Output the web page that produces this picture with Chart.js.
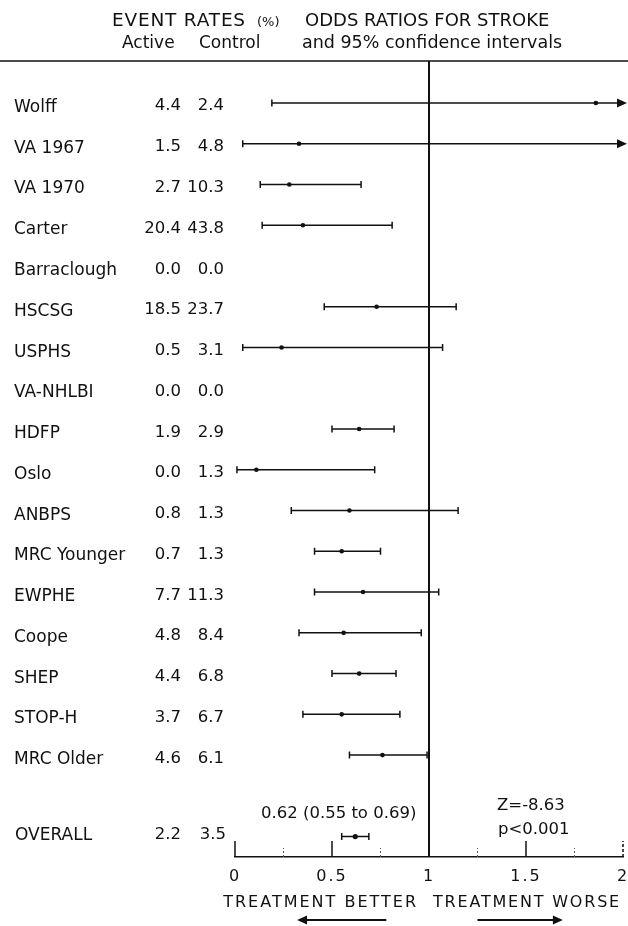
<!DOCTYPE html>
<html>
<head>
<meta charset="utf-8">
<title>Odds ratios for stroke</title>
<script src="https://cdn.jsdelivr.net/npm/chart.js@4/dist/chart.umd.min.js"></script>
<style>
  html, body { margin: 0; padding: 0; background: #fff; }
  canvas { display: block; }
</style>
</head>
<body>
<canvas id="forest" width="628" height="926"></canvas>
<script>
// Trials, event rates (%) and odds ratios for stroke with 95% confidence intervals
const studies = ['Wolff', 'VA 1967', 'VA 1970', 'Carter', 'Barraclough', 'HSCSG', 'USPHS',
  'VA-NHLBI', 'HDFP', 'Oslo', 'ANBPS', 'MRC Younger', 'EWPHE', 'Coope', 'SHEP', 'STOP-H', 'MRC Older'];
const activeRates = ['4.4', '1.5', '2.7', '20.4', '0.0', '18.5', '0.5', '0.0', '1.9', '0.0', '0.8',
  '0.7', '7.7', '4.8', '4.4', '3.7', '4.6'];
const controlRates = ['2.4', '4.8', '10.3', '43.8', '0.0', '23.7', '3.1', '0.0', '2.9', '1.3', '1.3',
  '1.3', '11.3', '8.4', '6.8', '6.7', '6.1'];
// null: no events in either arm, so no estimate
const oddsRatios = [1.86, 0.33, 0.28, 0.35, null, 0.73, 0.24, null, 0.64, 0.11, 0.59,
  0.55, 0.66, 0.56, 0.64, 0.55, 0.76];
const ciLower = [0.19, 0.04, 0.13, 0.14, null, 0.46, 0.04, null, 0.50, 0.01, 0.29,
  0.41, 0.41, 0.33, 0.50, 0.35, 0.59];
// Infinity: upper limit runs past the end of the axis (drawn as an arrow)
const ciUpper = [Infinity, Infinity, 0.65, 0.81, null, 1.14, 1.07, null, 0.82, 0.72, 1.15,
  0.75, 1.05, 0.96, 0.83, 0.85, 0.99];

// Pooled result
const overallLabel = 'OVERALL';
const overallActive = '2.2';
const overallControl = '3.5';
const overallOR = 0.62;
const overallLower = 0.55;
const overallUpper = 0.69;
const overallText = '0.62 (0.55 to 0.69)';
const testText = ['Z=-8.63', 'p<0.001'];

// Axis
const axisTicks = [0, 0.5, 1, 1.5, 2];
const tickLabels = ['0', '0.5', '1', '1.5', '2'];
const minorTicks = [0.25, 0.75, 1.25, 1.75];

const overallRow = studies.length + 1;
const INK = '#111';
const FONT = '"DejaVu Sans", "Liberation Sans", sans-serif';

function text(ctx, str, x, y, size, align, spacing) {
  ctx.save();
  ctx.font = size + 'px ' + FONT;
  ctx.fillStyle = INK;
  ctx.textAlign = align || 'left';
  ctx.textBaseline = 'alphabetic';
  ctx.letterSpacing = (spacing || 0) + 'px';
  ctx.fillText(str, x, y);
  ctx.restore();
}

function arrowHead(ctx, x, y, dir) {
  ctx.beginPath();
  ctx.moveTo(x, y);
  ctx.lineTo(x - dir * 10, y - 4.5);
  ctx.lineTo(x - dir * 10, y + 4.5);
  ctx.closePath();
  ctx.fill();
}

function drawInterval(ctx, chart, lo, hi, row) {
  const xs = chart.scales.x, ys = chart.scales.y;
  const y = ys.getPixelForValue(row);
  const x1 = xs.getPixelForValue(lo);
  const open = !isFinite(hi);
  const x2 = open ? chart.chartArea.right + 4 : xs.getPixelForValue(hi);
  ctx.beginPath();
  ctx.moveTo(x1, y);
  ctx.lineTo(open ? x2 - 8 : x2, y);
  ctx.moveTo(x1, y - 3.5);
  ctx.lineTo(x1, y + 3.5);
  if (!open) {
    ctx.moveTo(x2, y - 3.5);
    ctx.lineTo(x2, y + 3.5);
  }
  ctx.stroke();
  if (open) arrowHead(ctx, x2, y, 1);
}

const forestPlugin = {
  id: 'forest',
  beforeDraw(chart) {
    // slightly spaced digits on the odds-ratio axis
    chart.ctx.letterSpacing = '2px';
  },
  beforeDatasetsDraw(chart) {
    const ctx = chart.ctx;
    ctx.letterSpacing = '0px';
    const {chartArea, scales: {x, y}} = chart;
    ctx.save();
    ctx.strokeStyle = INK;
    ctx.fillStyle = INK;
    ctx.lineWidth = 1.5;

    // header rule across the full width
    ctx.beginPath();
    ctx.moveTo(0, chartArea.top);
    ctx.lineTo(chart.width, chartArea.top);
    ctx.stroke();

    // line of no effect
    ctx.lineWidth = 2;
    const x1 = x.getPixelForValue(1);
    ctx.beginPath();
    ctx.moveTo(x1, chartArea.top);
    ctx.lineTo(x1, chartArea.bottom);
    ctx.stroke();

    // axis tick marks rising from the baseline
    ctx.lineWidth = 1.5;
    axisTicks.forEach(v => {
      if (v === 1) return;
      const px = x.getPixelForValue(v);
      ctx.setLineDash(v === 2 ? [3, 2] : []);
      ctx.beginPath();
      ctx.moveTo(px, chartArea.bottom);
      ctx.lineTo(px, chartArea.bottom - 16);
      ctx.stroke();
    });
    ctx.strokeStyle = '#555';
    ctx.lineWidth = 1;
    ctx.setLineDash([2, 2]);
    minorTicks.forEach(v => {
      const px = x.getPixelForValue(v);
      ctx.beginPath();
      ctx.moveTo(px, chartArea.bottom);
      ctx.lineTo(px, chartArea.bottom - 9);
      ctx.stroke();
    });
    ctx.setLineDash([]);

    // confidence intervals
    ctx.strokeStyle = INK;
    ctx.lineWidth = 1.5;
    studies.forEach((s, i) => {
      if (ciLower[i] == null) return;
      drawInterval(ctx, chart, ciLower[i], ciUpper[i], i);
    });
    drawInterval(ctx, chart, overallLower, overallUpper, overallRow);
    ctx.restore();
  },
  afterDraw(chart) {
    const ctx = chart.ctx;
    ctx.letterSpacing = '0px';
    const {scales: {x, y}} = chart;

    // column headings
    text(ctx, 'EVENT RATES', 112, 26, 18.5, 'left', 0.8);
    text(ctx, '(%)', 257, 26, 13);
    text(ctx, 'ODDS RATIOS FOR STROKE', 305, 26, 18);
    text(ctx, 'Active', 122, 48, 17);
    text(ctx, 'Control', 199, 48, 17);
    text(ctx, 'and 95% confidence intervals', 302, 48, 17.5);

    // trial names and event rates
    studies.forEach((s, i) => {
      const py = y.getPixelForValue(i);
      text(ctx, s, 14, py + 9, 17);
      text(ctx, activeRates[i], 181, py + 7.5, 16.5, 'right');
      text(ctx, controlRates[i], 224, py + 7.5, 16.5, 'right');
    });

    const oy = y.getPixelForValue(overallRow);
    text(ctx, overallLabel, 15, oy + 3, 17);
    text(ctx, overallActive, 181, oy + 2, 16.5, 'right');
    text(ctx, overallControl, 226, oy + 2, 16.5, 'right');
    text(ctx, overallText, 261, oy - 19, 16.5);
    text(ctx, testText[0], 497, oy - 27, 16.5);
    text(ctx, testText[1], 498, oy - 3, 16.5);

    // direction captions under the axis
    const x1 = x.getPixelForValue(1);
    text(ctx, 'TREATMENT BETTER', x1 - 11, 907, 16, 'right', 2);
    text(ctx, 'TREATMENT WORSE', x1 + 4, 907, 16, 'left', 1.8);

    ctx.save();
    ctx.strokeStyle = INK;
    ctx.fillStyle = INK;
    ctx.lineWidth = 1.8;
    const ay = 920;
    const lStart = x.getPixelForValue(0.78), lEnd = x.getPixelForValue(0.32);
    const rStart = x.getPixelForValue(1.25), rEnd = x.getPixelForValue(1.69);
    ctx.beginPath();
    ctx.moveTo(lStart, ay); ctx.lineTo(lEnd + 8, ay);
    ctx.moveTo(rStart, ay); ctx.lineTo(rEnd - 8, ay);
    ctx.stroke();
    arrowHead(ctx, lEnd, ay, -1);
    arrowHead(ctx, rEnd, ay, 1);
    ctx.restore();
  }
};

const studyPoints = [];
studies.forEach((s, i) => {
  if (oddsRatios[i] != null) studyPoints.push({x: oddsRatios[i], y: i});
});

new Chart(document.getElementById('forest'), {
  type: 'scatter',
  data: {
    datasets: [
      {
        label: 'Odds ratio',
        data: studyPoints,
        pointRadius: 2.3,
        pointBackgroundColor: INK,
        pointBorderWidth: 0
      },
      {
        label: 'Overall',
        data: [{x: overallOR, y: overallRow}],
        pointRadius: 2.6,
        pointBackgroundColor: INK,
        pointBorderWidth: 0
      }
    ]
  },
  options: {
    responsive: false,
    animation: false,
    devicePixelRatio: 1,
    layout: {padding: {left: 235, right: 5, top: 61, bottom: 19}},
    plugins: {legend: {display: false}, tooltip: {enabled: false}},
    scales: {
      x: {
        type: 'linear',
        min: 0,
        max: 2,
        afterBuildTicks: s => { s.ticks = axisTicks.map(v => ({value: v})); },
        afterFit: s => {
          s.height = 50;
          // end labels may overhang the plot edges
          s.paddingLeft = 0;
          s.paddingRight = 0;
        },
        ticks: {
          callback: v => tickLabels[axisTicks.indexOf(v)],
          font: {family: FONT, size: 16},
          color: INK,
          padding: 10,
          maxRotation: 0,
          autoSkip: false
        },
        grid: {display: false, drawTicks: false},
        border: {display: true, color: INK, width: 1.5}
      },
      y: {
        type: 'linear',
        reverse: true,
        min: -1.03,
        max: 18.5,
        display: false
      }
    }
  },
  plugins: [forestPlugin]
});
</script>
</body>
</html>
